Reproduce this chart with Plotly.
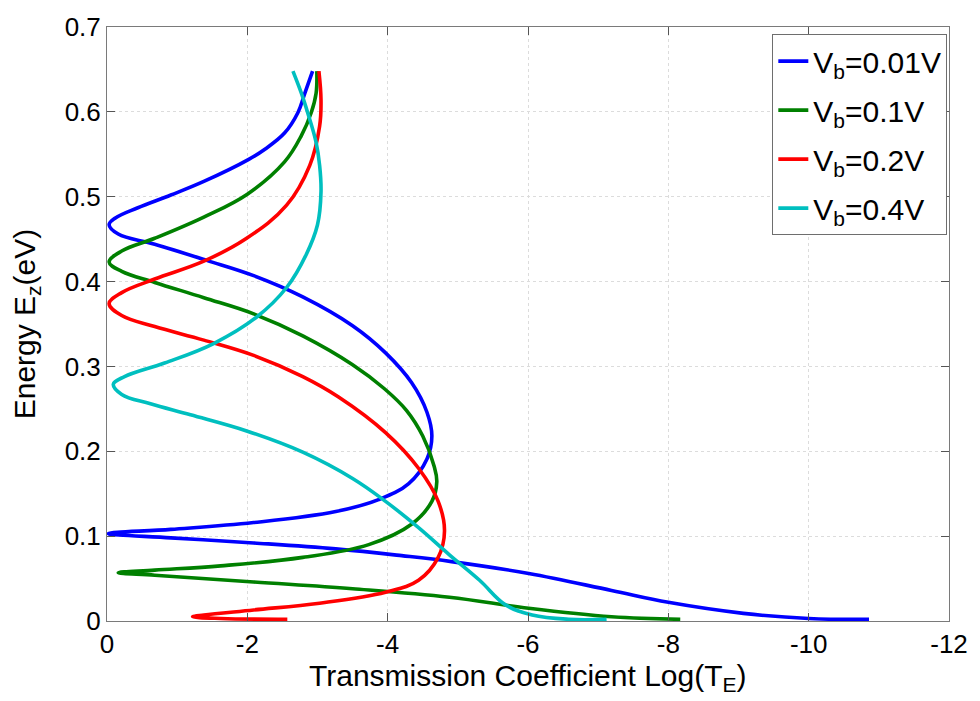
import plotly.graph_objects as go

# ---- data ----
series_names = ["V<sub>b</sub>=0.01V", "V<sub>b</sub>=0.1V", "V<sub>b</sub>=0.2V", "V<sub>b</sub>=0.4V"]
series_colors = ["#0000FF", "#008000", "#FF0000", "#00BFBF"]

# Vb = 0.01 V : energy E_z (eV) and log10 transmission
E_001 = [0.648, 0.622, 0.599, 0.575, 0.556, 0.544, 0.518, 0.502, 0.487, 0.475, 0.467, 0.456, 0.444, 0.425,
         0.407, 0.382, 0.348, 0.316, 0.281, 0.246, 0.218, 0.191, 0.162, 0.143, 0.129, 0.116, 0.108, 0.103,
         0.098, 0.092, 0.085, 0.077, 0.070, 0.056, 0.036, 0.022, 0.009, 0.003, 0.002]
T_001 = [-2.93, -2.82, -2.72, -2.53, -2.25, -2.02, -1.38, -0.91, -0.44, -0.12, -0.03, -0.16, -0.68, -1.42,
         -2.09, -2.79, -3.50, -3.97, -4.34, -4.56, -4.63, -4.56, -4.30, -3.87, -3.26, -2.09, -0.91, -0.02,
         -0.91, -2.09, -3.26, -4.20, -4.91, -6.01, -7.19, -8.00, -9.07, -10.0, -10.86]

# Vb = 0.1 V
E_01 = [0.648, 0.622, 0.599, 0.572, 0.541, 0.503, 0.476, 0.451, 0.436, 0.423, 0.412, 0.399, 0.381, 0.362,
        0.336, 0.302, 0.274, 0.248, 0.218, 0.183, 0.164, 0.141, 0.114, 0.090, 0.075, 0.065, 0.060, 0.057,
        0.054, 0.046, 0.038, 0.028, 0.015, 0.005, 0.002]
T_01 = [-2.99, -2.98, -2.91, -2.77, -2.53, -2.00, -1.38, -0.68, -0.21, -0.03, -0.21, -0.68, -1.38, -2.09,
        -2.79, -3.50, -3.95, -4.27, -4.50, -4.66, -4.70, -4.63, -4.34, -3.73, -2.79, -1.62, -0.68, -0.16,
        -0.68, -2.09, -3.50, -4.88, -6.01, -7.19, -8.17]

# Vb = 0.2 V
E_02 = [0.648, 0.614, 0.583, 0.537, 0.490, 0.451, 0.424, 0.403, 0.387, 0.374, 0.360, 0.347, 0.331, 0.313,
        0.288, 0.264, 0.222, 0.180, 0.141, 0.106, 0.075, 0.048, 0.034, 0.021, 0.013, 0.007, 0.005,
        0.003, 0.002]
T_02 = [-3.02, -3.05, -3.03, -2.89, -2.56, -1.99, -1.38, -0.68, -0.21, -0.03, -0.21, -0.68, -1.38, -2.09,
        -2.79, -3.30, -3.97, -4.44, -4.72, -4.81, -4.72, -4.44, -3.97, -3.03, -2.09, -1.38, -1.22,
        -1.62, -2.57]

# Vb = 0.4 V
E_04 = [0.648, 0.622, 0.599, 0.564, 0.537, 0.506, 0.467, 0.432, 0.393, 0.358, 0.327, 0.304, 0.288, 0.279,
        0.267, 0.256, 0.243, 0.224, 0.199, 0.168, 0.141, 0.110, 0.078, 0.048, 0.019, 0.007, 0.002, 0.002]
T_04 = [-2.65, -2.77, -2.86, -2.98, -3.03, -3.05, -3.00, -2.84, -2.56, -2.13, -1.52, -0.82, -0.25, -0.09,
        -0.21, -0.62, -1.19, -1.99, -2.79, -3.50, -3.97, -4.44, -4.88, -5.31, -5.68, -6.06, -6.58, -7.12]

x_ticks = [0, -2, -4, -6, -8, -10, -12]
y_ticks = [0, 0.1, 0.2, 0.3, 0.4, 0.5, 0.6, 0.7]

all_E = [E_001, E_01, E_02, E_04]
all_T = [T_001, T_01, T_02, T_04]

FONT = "Liberation Sans, Arial, Helvetica, sans-serif"

fig = go.Figure()
for i, (name, col, E, T) in enumerate(zip(series_names, series_colors, all_E, all_T)):
    fig.add_trace(go.Scatter(
        x=T, y=E, mode="lines", name=name, legendgroup=f"g{i}",
        line=dict(color=col, width=3.6, shape="spline", smoothing=1.1),
    ))

axis_common = dict(
    showline=True, linecolor="#7a7a7a", linewidth=1, mirror="ticks",
    ticks="inside", ticklen=8, tickcolor="#555555", tickwidth=1,
    showgrid=True, gridcolor="#dcdcdc", griddash="dot", gridwidth=1,
    zeroline=False, tickfont=dict(family=FONT, size=26, color="black"),
)

fig.update_xaxes(
    range=[0, -12], tickvals=x_ticks, ticktext=[str(v) for v in x_ticks],
    **axis_common,
)
fig.update_yaxes(
    range=[0, 0.7], tickvals=y_ticks, ticktext=["0"] + [f"{v:.1f}" for v in y_ticks[1:]],
    title=dict(text="Energy E<sub>z</sub>(eV)",
               font=dict(family=FONT, size=30, color="black"), standoff=20),
    **axis_common,
)

fig.add_annotation(
    text="Transmission Coefficient Log(T<sub>E</sub>)",
    xref="paper", yref="paper", x=0.5, y=-0.062, xanchor="center", yanchor="top",
    showarrow=False, font=dict(family=FONT, size=30, color="black"), borderpad=0,
)

fig.update_layout(
    width=980, height=701,
    margin=dict(l=107, r=22, t=20, b=80),
    paper_bgcolor="white", plot_bgcolor="white",
    font=dict(family=FONT, color="black"),
    legend=dict(
        x=0.998, y=0.988, xanchor="right", yanchor="top",
        bgcolor="white", bordercolor="#6e6e6e", borderwidth=1,
        font=dict(family=FONT, size=30, color="black"),
        tracegroupgap=7, traceorder="grouped", entrywidth=157,
    ),
)

fig.write_html("out.html")
